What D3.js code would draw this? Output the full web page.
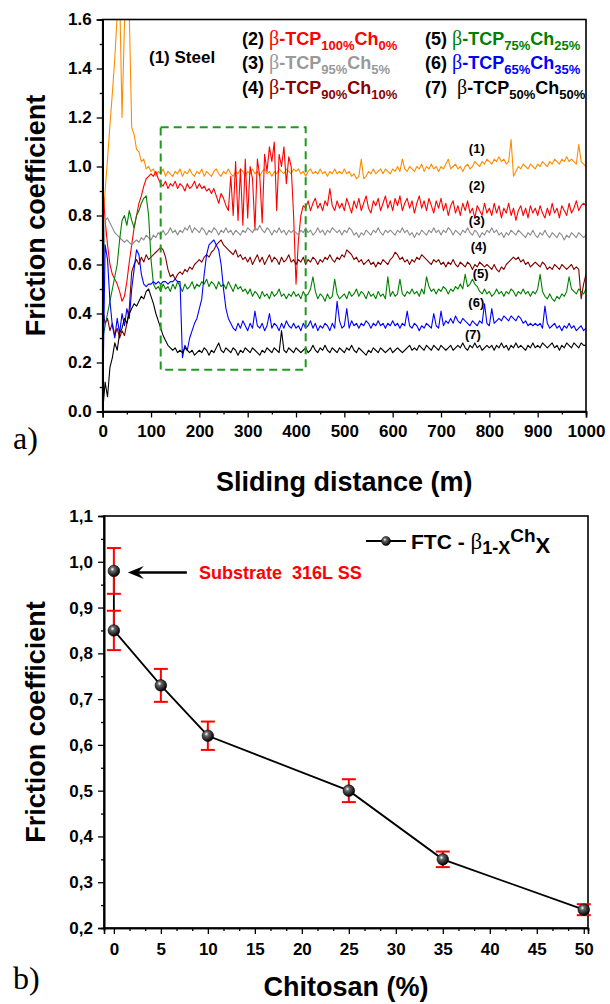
<!DOCTYPE html>
<html>
<head>
<meta charset="utf-8">
<script src="https://cdn.jsdelivr.net/npm/d3@7"></script>
<style>
  body { margin: 0; background: #fff; }
  svg { display: block; font-family: "Liberation Sans", Arial, sans-serif; }
</style>
</head>
<body>
<svg id="fig" width="610" height="1004"></svg>
<script>
// ---------- (a) friction coefficient vs sliding distance, sampled every 5 m ----------
const distance = d3.range(0, 1001, 5);

const steel = [
  0.76,0.90,1.03,1.17,1.30,1.44,1.62,1.72,1.20,1.58,1.72,1.62,1.16,1.13,1.07,1.06,1.02,1.03,0.99,1.00,
  0.98,0.99,0.96,0.98,0.97,0.99,0.96,0.98,0.97,0.96,0.98,0.97,0.99,0.96,0.98,0.97,0.99,0.97,0.96,0.98,
  0.97,0.99,0.96,0.98,0.97,0.96,0.98,0.99,0.97,0.96,0.98,0.97,0.99,0.97,0.96,0.98,0.97,0.99,0.98,0.96,
  0.98,0.97,0.99,0.97,0.98,0.96,0.98,0.99,0.97,0.98,0.96,0.98,0.97,0.99,0.98,0.97,0.99,0.98,0.97,0.99,
  0.98,0.99,0.97,0.98,0.96,0.98,0.99,0.97,0.98,0.97,0.99,0.97,0.98,0.96,0.98,0.97,0.99,0.97,0.98,0.97,
  0.99,0.97,0.98,0.96,0.97,0.95,0.96,1.03,0.95,0.96,0.98,0.97,0.99,0.97,0.98,0.99,0.97,0.99,0.98,0.97,
  0.99,0.98,1.00,0.98,1.03,0.99,0.98,1.00,0.99,0.98,1.00,0.99,1.01,0.98,1.00,0.99,1.01,0.99,1.00,0.98,
  1.00,0.99,1.01,1.03,0.99,1.00,1.01,0.99,1.00,0.98,1.00,1.01,0.99,1.00,1.02,1.01,1.00,1.02,1.01,1.03,
  1.02,1.01,1.03,1.02,1.04,1.02,1.03,1.01,1.02,1.11,0.96,0.98,1.00,0.99,1.01,1.00,0.99,1.01,1.00,0.99,
  1.01,1.00,1.02,1.01,1.00,1.02,1.01,1.03,1.02,1.01,1.03,1.02,1.04,1.02,1.03,1.02,1.01,1.09,1.02,1.01,
  1.00
];
const tcp100 = [
  0.93,0.78,0.68,0.60,0.56,0.54,0.52,0.49,0.45,0.47,0.53,0.61,0.68,0.75,0.80,0.85,0.88,0.92,0.95,0.96,
  0.97,0.96,0.98,0.95,0.93,0.92,0.94,0.91,0.93,0.92,0.94,0.91,0.93,0.92,0.90,0.93,0.91,0.92,0.94,0.91,
  0.93,0.91,0.92,0.90,0.91,0.89,0.91,0.88,0.85,0.89,0.87,0.84,0.82,0.96,0.80,1.02,0.78,0.99,0.76,1.03,
  0.79,1.00,0.95,0.74,1.03,0.96,0.77,1.05,0.98,1.08,1.02,1.10,0.82,1.05,1.00,1.08,0.93,1.04,1.00,0.80,
  0.52,0.70,0.80,0.84,0.83,0.86,0.82,0.85,0.87,0.83,0.85,0.82,0.86,0.84,0.91,0.84,0.82,0.86,0.83,0.85,
  0.82,0.87,0.84,0.81,0.86,0.83,0.87,0.82,0.85,0.88,0.83,0.81,0.86,0.84,0.87,0.82,0.85,0.88,0.83,0.86,
  0.82,0.87,0.84,0.88,0.82,0.85,0.87,0.83,0.86,0.81,0.85,0.88,0.83,0.86,0.82,0.87,0.84,0.81,0.86,0.83,
  0.87,0.82,0.85,0.80,0.84,0.86,0.81,0.84,0.80,0.85,0.82,0.86,0.81,0.83,0.79,0.84,0.82,0.80,0.85,0.81,
  0.83,0.80,0.85,0.81,0.84,0.79,0.83,0.81,0.85,0.80,0.83,0.78,0.82,0.84,0.80,0.83,0.79,0.84,0.81,0.83,
  0.80,0.84,0.81,0.79,0.83,0.80,0.85,0.81,0.83,0.79,0.84,0.82,0.80,0.85,0.81,0.83,0.86,0.82,0.84,0.85,
  0.84
];
const tcp95 = [
  0.35,0.78,0.79,0.77,0.75,0.73,0.72,0.71,0.70,0.69,0.70,0.69,0.68,0.69,0.70,0.69,0.71,0.70,0.72,0.71,
  0.70,0.72,0.71,0.73,0.72,0.74,0.72,0.73,0.75,0.73,0.74,0.72,0.74,0.73,0.75,0.74,0.76,0.73,0.75,0.74,
  0.73,0.75,0.74,0.72,0.74,0.73,0.75,0.74,0.72,0.74,0.73,0.75,0.73,0.74,0.72,0.74,0.73,0.72,0.74,0.73,
  0.75,0.74,0.73,0.75,0.74,0.76,0.74,0.73,0.75,0.74,0.72,0.74,0.73,0.75,0.73,0.74,0.72,0.74,0.73,0.74,
  0.73,0.72,0.74,0.73,0.75,0.73,0.74,0.72,0.73,0.75,0.73,0.74,0.72,0.74,0.73,0.75,0.74,0.73,0.74,0.72,
  0.74,0.73,0.75,0.74,0.72,0.73,0.71,0.73,0.72,0.74,0.73,0.72,0.74,0.73,0.75,0.73,0.72,0.74,0.73,0.74,
  0.73,0.72,0.74,0.73,0.75,0.73,0.74,0.72,0.73,0.71,0.73,0.72,0.74,0.73,0.72,0.74,0.73,0.75,0.73,0.74,
  0.72,0.74,0.73,0.75,0.74,0.72,0.74,0.73,0.72,0.74,0.73,0.75,0.73,0.72,0.74,0.73,0.71,0.73,0.72,0.74,
  0.73,0.75,0.73,0.74,0.72,0.73,0.71,0.73,0.72,0.74,0.73,0.72,0.74,0.73,0.72,0.71,0.73,0.72,0.74,0.72,
  0.71,0.73,0.72,0.74,0.72,0.71,0.73,0.72,0.71,0.73,0.72,0.70,0.72,0.71,0.73,0.72,0.71,0.73,0.72,0.71,
  0.72
];
const tcp90 = [
  0.42,0.36,0.38,0.33,0.36,0.31,0.34,0.30,0.33,0.31,0.36,0.42,0.57,0.60,0.62,0.60,0.63,0.61,0.64,0.62,
  0.63,0.64,0.65,0.66,0.67,0.66,0.63,0.58,0.55,0.56,0.54,0.56,0.57,0.56,0.58,0.57,0.59,0.58,0.60,0.61,
  0.62,0.61,0.63,0.64,0.63,0.65,0.66,0.68,0.69,0.70,0.68,0.67,0.66,0.65,0.64,0.66,0.63,0.64,0.62,0.63,
  0.61,0.63,0.60,0.62,0.64,0.61,0.63,0.60,0.62,0.64,0.61,0.63,0.62,0.60,0.63,0.61,0.62,0.64,0.61,0.62,
  0.60,0.62,0.61,0.63,0.60,0.62,0.61,0.63,0.62,0.60,0.62,0.61,0.63,0.62,0.64,0.62,0.61,0.63,0.62,0.64,
  0.63,0.66,0.65,0.64,0.62,0.63,0.61,0.62,0.60,0.61,0.62,0.60,0.61,0.59,0.61,0.60,0.62,0.61,0.60,0.62,
  0.63,0.65,0.64,0.62,0.63,0.61,0.62,0.60,0.62,0.61,0.63,0.62,0.64,0.63,0.62,0.61,0.60,0.62,0.61,0.62,
  0.60,0.61,0.59,0.61,0.60,0.62,0.60,0.59,0.61,0.60,0.59,0.61,0.60,0.58,0.60,0.59,0.61,0.60,0.59,0.60,
  0.59,0.58,0.60,0.58,0.57,0.59,0.58,0.60,0.61,0.62,0.63,0.62,0.63,0.61,0.62,0.60,0.61,0.59,0.60,0.61,
  0.60,0.59,0.61,0.60,0.58,0.59,0.58,0.60,0.59,0.58,0.60,0.59,0.58,0.59,0.60,0.58,0.59,0.58,0.46,0.52,
  0.56
];
const tcp75 = [
  0.30,0.35,0.40,0.45,0.50,0.55,0.60,0.70,0.78,0.80,0.76,0.82,0.78,0.75,0.80,0.82,0.85,0.87,0.88,0.80,
  0.62,0.52,0.50,0.51,0.49,0.52,0.50,0.51,0.49,0.52,0.50,0.53,0.51,0.49,0.52,0.50,0.51,0.53,0.50,0.52,
  0.51,0.53,0.52,0.54,0.51,0.53,0.52,0.50,0.53,0.51,0.52,0.50,0.53,0.51,0.49,0.52,0.50,0.51,0.49,0.50,
  0.48,0.50,0.47,0.49,0.48,0.46,0.49,0.47,0.48,0.46,0.49,0.47,0.48,0.50,0.47,0.48,0.46,0.48,0.47,0.49,
  0.47,0.48,0.46,0.49,0.47,0.48,0.50,0.55,0.49,0.46,0.48,0.47,0.45,0.48,0.46,0.47,0.54,0.48,0.46,0.47,
  0.48,0.46,0.49,0.47,0.48,0.50,0.47,0.49,0.48,0.46,0.49,0.47,0.48,0.46,0.49,0.47,0.48,0.46,0.55,0.47,
  0.49,0.47,0.48,0.54,0.48,0.47,0.49,0.48,0.50,0.48,0.49,0.47,0.50,0.48,0.55,0.51,0.49,0.50,0.48,0.50,
  0.49,0.51,0.50,0.48,0.50,0.49,0.51,0.50,0.52,0.50,0.56,0.51,0.52,0.54,0.52,0.51,0.49,0.48,0.50,0.48,
  0.49,0.47,0.48,0.50,0.48,0.49,0.47,0.49,0.48,0.50,0.49,0.47,0.49,0.48,0.50,0.48,0.49,0.47,0.49,0.48,
  0.50,0.56,0.49,0.47,0.46,0.48,0.46,0.45,0.47,0.46,0.48,0.47,0.49,0.55,0.50,0.49,0.48,0.50,0.49,0.48,
  0.50
];
const tcp65 = [
  0.02,0.68,0.62,0.45,0.35,0.30,0.38,0.32,0.40,0.35,0.42,0.38,0.50,0.58,0.66,0.64,0.56,0.52,0.51,0.52,
  0.52,0.53,0.52,0.53,0.52,0.53,0.53,0.52,0.53,0.53,0.54,0.53,0.53,0.22,0.27,0.25,0.30,0.33,0.36,0.38,
  0.42,0.46,0.56,0.64,0.68,0.69,0.70,0.68,0.66,0.60,0.50,0.42,0.38,0.36,0.34,0.33,0.36,0.34,0.37,0.35,
  0.33,0.36,0.34,0.41,0.35,0.34,0.36,0.33,0.35,0.40,0.34,0.36,0.35,0.33,0.36,0.34,0.37,0.35,0.34,0.36,
  0.34,0.35,0.33,0.36,0.34,0.35,0.37,0.34,0.36,0.33,0.35,0.34,0.36,0.35,0.33,0.36,0.34,0.45,0.37,0.34,
  0.35,0.42,0.34,0.37,0.35,0.36,0.34,0.36,0.35,0.37,0.36,0.34,0.36,0.35,0.37,0.35,0.36,0.34,0.36,0.35,
  0.37,0.35,0.36,0.34,0.36,0.35,0.41,0.35,0.34,0.36,0.35,0.33,0.35,0.34,0.36,0.35,0.34,0.40,0.35,0.34,
  0.41,0.35,0.37,0.36,0.38,0.36,0.39,0.37,0.36,0.38,0.37,0.36,0.35,0.37,0.36,0.35,0.37,0.36,0.44,0.36,
  0.35,0.42,0.36,0.37,0.38,0.37,0.39,0.38,0.37,0.39,0.38,0.37,0.39,0.38,0.36,0.37,0.35,0.36,0.35,0.36,
  0.35,0.36,0.34,0.43,0.36,0.34,0.35,0.36,0.34,0.35,0.33,0.35,0.34,0.36,0.34,0.35,0.33,0.34,0.35,0.33,
  0.34
];
const tcp50 = [
  0.00,0.12,0.06,0.18,0.22,0.28,0.25,0.32,0.34,0.38,0.36,0.40,0.42,0.44,0.43,0.45,0.47,0.46,0.49,0.50,
  0.47,0.44,0.40,0.37,0.34,0.31,0.29,0.27,0.26,0.25,0.26,0.24,0.25,0.24,0.26,0.25,0.24,0.25,0.23,0.24,
  0.25,0.24,0.26,0.25,0.23,0.25,0.24,0.26,0.28,0.25,0.24,0.26,0.25,0.24,0.26,0.25,0.23,0.25,0.24,0.26,
  0.25,0.24,0.26,0.25,0.24,0.23,0.25,0.24,0.26,0.25,0.24,0.26,0.25,0.24,0.33,0.25,0.24,0.26,0.25,0.24,
  0.26,0.25,0.24,0.25,0.26,0.24,0.25,0.27,0.25,0.24,0.26,0.25,0.27,0.25,0.24,0.26,0.25,0.24,0.26,0.25,
  0.24,0.26,0.25,0.27,0.25,0.24,0.26,0.25,0.24,0.23,0.25,0.24,0.26,0.25,0.24,0.26,0.25,0.24,0.25,0.26,
  0.24,0.25,0.26,0.25,0.24,0.25,0.26,0.27,0.25,0.26,0.25,0.27,0.26,0.25,0.27,0.26,0.25,0.27,0.26,0.25,
  0.27,0.26,0.25,0.26,0.27,0.25,0.26,0.27,0.26,0.28,0.26,0.25,0.27,0.26,0.28,0.26,0.27,0.25,0.26,0.27,
  0.26,0.27,0.25,0.27,0.26,0.28,0.26,0.27,0.25,0.27,0.26,0.28,0.26,0.27,0.26,0.25,0.27,0.26,0.28,0.26,
  0.27,0.26,0.28,0.27,0.26,0.27,0.28,0.26,0.27,0.25,0.27,0.26,0.28,0.27,0.26,0.28,0.27,0.26,0.28,0.27,
  0.27
];

const series = [steel, tcp100, tcp95, tcp90, tcp75, tcp65, tcp50];
const seriesTags = ["(1)", "(2)", "(3)", "(4)", "(5)", "(6)", "(7)"];
const seriesColors = ["#ff8c00", "#ff0000", "#8c8c8c", "#800000", "#008000", "#0000ff", "#000000"];
const legendColors = ["#000000", "#ff0000", "#999999", "#8b0000", "#008000", "#0000ff", "#000000"];
// beta-TCP / chitosan percentages of the coatings (2)-(7)
const tcpShare = [100, 95, 90, 75, 65, 50];
const chShare = [0, 5, 10, 25, 35, 50];
// where each curve tag sits, in data units (distance, friction)
const tagDistance = [774, 774, 774, 778, 782, 773, 766];
const tagValue = [1.075, 0.924, 0.781, 0.673, 0.565, 0.444, 0.315];
// dashed rectangle marking the running-in region
const runIn = { from: 120, to: 420, low: 0.17, high: 1.16 };

const xTicksA = d3.range(0, 1001, 100);
const yTicksA = d3.range(0, 1.61, 0.2);

// ---------- (b) mean friction coefficient vs chitosan content ----------
const chitosan = [0, 0, 5, 10, 25, 35, 50];
const ftc = [0.98, 0.85, 0.73, 0.62, 0.50, 0.35, 0.24];
const ftcErr = [0.05, 0.043, 0.036, 0.031, 0.025, 0.017, 0.012];
const xTicksB = d3.range(0, 51, 5);
const yTicksB = [0.2, 0.3, 0.4, 0.5, 0.6, 0.7, 0.8, 0.9, 1.0, 1.1];

// ================= drawing =================
const svg = d3.select("#fig");
const defs = svg.append("defs");

const ball = defs.append("radialGradient").attr("id", "ball")
  .attr("cx", "38%").attr("cy", "35%").attr("r", "65%");
ball.append("stop").attr("offset", "0%").attr("stop-color", "#ffffff");
ball.append("stop").attr("offset", "28%").attr("stop-color", "#666666");
ball.append("stop").attr("offset", "100%").attr("stop-color", "#000000");

function styleAxis(g, fontSize) {
  g.select(".domain").attr("stroke", "#000").attr("stroke-width", 1.6);
  g.selectAll(".tick line").attr("stroke", "#000").attr("stroke-width", 1.3);
  g.selectAll(".tick text").attr("fill", "#000").attr("font-size", fontSize)
    .attr("font-weight", "bold").attr("font-family", "'Liberation Sans', Arial, sans-serif");
}

// ----- panel a -----
const xA = d3.scaleLinear().domain([0, 1000]).range([102.7, 586]);
const yA = d3.scaleLinear().domain([0, 1.6]).range([411.5, 19.5]);

defs.append("clipPath").attr("id", "clipA").append("rect")
  .attr("x", xA(0)).attr("y", yA(1.6))
  .attr("width", xA(1000) - xA(0)).attr("height", yA(0) - yA(1.6));

const lineA = d3.line().x((d, i) => xA(distance[i])).y(d => yA(d));
const curves = svg.append("g").attr("clip-path", "url(#clipA)");
series.forEach((s, k) => {
  curves.append("path").attr("d", lineA(s)).attr("fill", "none")
    .attr("stroke", seriesColors[k]).attr("stroke-width", 1.1)
    .attr("stroke-linejoin", "round");
});

svg.append("rect")
  .attr("x", xA(runIn.from)).attr("y", yA(runIn.high))
  .attr("width", xA(runIn.to) - xA(runIn.from)).attr("height", yA(runIn.low) - yA(runIn.high))
  .attr("fill", "none").attr("stroke", "#1f9a1f").attr("stroke-width", 2)
  .attr("stroke-dasharray", "8,5");

svg.append("rect").attr("x", xA(0)).attr("y", yA(1.6))
  .attr("width", xA(1000) - xA(0)).attr("height", yA(0) - yA(1.6))
  .attr("fill", "none").attr("stroke", "#000").attr("stroke-width", 1.6);

const axA = svg.append("g").attr("transform", `translate(0,${yA(0)})`)
  .call(d3.axisBottom(xA).tickValues(xTicksA).tickSize(6).tickPadding(7).tickFormat(d3.format("d")));
styleAxis(axA, 17);
const axAm = svg.append("g").attr("transform", `translate(0,${yA(0)})`)
  .call(d3.axisBottom(xA).tickValues(d3.range(50, 1000, 100)).tickSize(3).tickFormat(""));
styleAxis(axAm, 17);
const ayA = svg.append("g").attr("transform", `translate(${xA(0)},0)`)
  .call(d3.axisLeft(yA).tickValues(yTicksA).tickSize(6).tickPadding(5).tickFormat(d3.format(".1f")));
styleAxis(ayA, 17);
const ayAm = svg.append("g").attr("transform", `translate(${xA(0)},0)`)
  .call(d3.axisLeft(yA).tickValues(d3.range(0.1, 1.6, 0.2)).tickSize(3).tickFormat(""));
styleAxis(ayAm, 17);

// curve tags
seriesTags.forEach((t, k) => {
  svg.append("text").attr("x", xA(tagDistance[k])).attr("y", yA(tagValue[k]))
    .attr("text-anchor", "middle").attr("dominant-baseline", "central")
    .attr("font-size", 13).attr("font-weight", "bold").text(t);
});

// legend
svg.append("text").attr("x", 149).attr("y", 63).attr("font-size", 17)
  .attr("font-weight", "bold").text("(1) Steel");

function legendEntry(x, y, k) {
  const c = legendColors[k + 1];
  const t = svg.append("text").attr("x", x).attr("y", y)
    .attr("font-size", 18).attr("font-weight", "bold");
  t.append("tspan").attr("fill", "#000").text(seriesTags[k + 1] + (k === 5 ? "\u00a0\u00a0" : " "));
  t.append("tspan").attr("fill", c).attr("font-family", "'Liberation Serif', serif")
    .attr("font-weight", "normal").attr("font-size", 20).text("\u03b2");
  t.append("tspan").attr("fill", c).text("-TCP");
  t.append("tspan").attr("fill", c).attr("font-size", 13).attr("dy", 5).text(tcpShare[k] + "%");
  t.append("tspan").attr("fill", c).attr("dy", -5).text("Ch");
  t.append("tspan").attr("fill", c).attr("font-size", 13).attr("dy", 5).text(chShare[k] + "%");
}
[45, 69, 94].forEach((y, r) => legendEntry(242, y, r));
[45, 69, 94].forEach((y, r) => legendEntry(425, y, r + 3));

svg.append("text").attr("x", 13).attr("y", 449)
  .attr("font-family", "'Liberation Serif', serif").attr("font-size", 32).text("a)");
svg.append("text").attr("x", (xA(0) + xA(1000)) / 2).attr("y", 491)
  .attr("text-anchor", "middle").attr("font-size", 27).attr("font-weight", "bold")
  .text("Sliding distance (m)");
svg.append("text").attr("transform", `translate(45,${(yA(0) + yA(1.6)) / 2}) rotate(-90)`)
  .attr("text-anchor", "middle").attr("font-size", 27).attr("font-weight", "bold")
  .text("Friction coefficient");

// ----- panel b -----
const xB = d3.scaleLinear().domain([-1.05, 50.45]).range([104, 588]);
const yB = d3.scaleLinear().domain([0.2, 1.1]).range([928, 516]);
const comma = v => d3.format(".1f")(v).replace(".", ",");

svg.append("rect").attr("x", xB(-1.05)).attr("y", yB(1.1))
  .attr("width", xB(50.45) - xB(-1.05)).attr("height", yB(0.2) - yB(1.1))
  .attr("fill", "none").attr("stroke", "#000").attr("stroke-width", 1.6);

const axB = svg.append("g").attr("transform", `translate(0,${yB(0.2)})`)
  .call(d3.axisBottom(xB).tickValues(xTicksB).tickSize(6).tickPadding(9).tickFormat(d3.format("d")));
styleAxis(axB, 17);
const minorB = d3.range(0, 50.01, 5 / 3).filter(v => Math.abs(v / 5 - Math.round(v / 5)) > 0.01);
const axBm = svg.append("g").attr("transform", `translate(0,${yB(0.2)})`)
  .call(d3.axisBottom(xB).tickValues(minorB).tickSize(3).tickFormat(""));
styleAxis(axBm, 17);
const ayB = svg.append("g").attr("transform", `translate(${xB(-1.05)},0)`)
  .call(d3.axisLeft(yB).tickValues(yTicksB).tickSize(6).tickPadding(5).tickFormat(comma));
styleAxis(ayB, 17);
const ayBm = svg.append("g").attr("transform", `translate(${xB(-1.05)},0)`)
  .call(d3.axisLeft(yB).tickValues(d3.range(0.25, 1.1, 0.1)).tickSize(3).tickFormat(""));
styleAxis(ayBm, 17);

const pts = chitosan.map((c, i) => ({ c, v: ftc[i], e: ftcErr[i] }));
svg.append("path")
  .attr("d", d3.line().x(d => xB(d.c)).y(d => yB(d.v))(pts))
  .attr("fill", "none").attr("stroke", "#000").attr("stroke-width", 1.8);

const bars = svg.append("g").attr("stroke", "#ff0000").attr("stroke-width", 2);
pts.forEach(d => {
  const cx = xB(d.c);
  bars.append("line").attr("x1", cx).attr("x2", cx).attr("y1", yB(d.v - d.e)).attr("y2", yB(d.v + d.e));
  [d.v - d.e, d.v + d.e].forEach(v => {
    bars.append("line").attr("x1", cx - 7).attr("x2", cx + 7).attr("y1", yB(v)).attr("y2", yB(v));
  });
});
svg.append("g").selectAll("circle").data(pts).join("circle")
  .attr("cx", d => xB(d.c)).attr("cy", d => yB(d.v)).attr("r", 5.8)
  .attr("fill", "url(#ball)").attr("stroke", "#000").attr("stroke-width", 0.6);

// arrow to the bare substrate point
const ax0 = xB(0) + 14, ay0 = yB(ftc[0]) + 1.5;
svg.append("line").attr("x1", ax0 + 8).attr("x2", ax0 + 59).attr("y1", ay0).attr("y2", ay0)
  .attr("stroke", "#000").attr("stroke-width", 2.4);
svg.append("path")
  .attr("d", `M${ax0},${ay0} L${ax0 + 16},${ay0 - 6.5} L${ax0 + 10},${ay0} L${ax0 + 16},${ay0 + 6.5} Z`)
  .attr("fill", "#000");
svg.append("text").attr("x", 199).attr("y", ay0 + 6.5).attr("fill", "#ff0000")
  .attr("font-size", 18).attr("font-weight", "bold").text("Substrate\u00a0 316L SS");

// legend of panel b
svg.append("line").attr("x1", 366).attr("x2", 406).attr("y1", 541).attr("y2", 541)
  .attr("stroke", "#000").attr("stroke-width", 1.8);
svg.append("circle").attr("cx", 386).attr("cy", 541).attr("r", 4.5)
  .attr("fill", "url(#ball)").attr("stroke", "#000").attr("stroke-width", 0.5);
const lg = svg.append("text").attr("x", 411).attr("y", 549).attr("font-size", 21).attr("font-weight", "bold");
lg.append("tspan").text("FTC - ");
lg.append("tspan").attr("font-family", "'Liberation Serif', serif").attr("font-weight", "normal")
  .attr("font-size", 23).text("\u03b2");
lg.append("tspan").attr("font-size", 18).attr("dy", 5).text("1-X");
lg.append("tspan").attr("font-size", 19).attr("dy", -12).text("Ch");
lg.append("tspan").attr("font-size", 22).attr("dy", 11).text("X");

svg.append("text").attr("x", 13).attr("y", 989)
  .attr("font-family", "'Liberation Serif', serif").attr("font-size", 32).text("b)");
svg.append("text").attr("x", (xB(-1.05) + xB(50.45)) / 2).attr("y", 996)
  .attr("text-anchor", "middle").attr("font-size", 27).attr("font-weight", "bold")
  .text("Chitosan (%)");
svg.append("text").attr("transform", `translate(45,${(yB(0.2) + yB(1.1)) / 2}) rotate(-90)`)
  .attr("text-anchor", "middle").attr("font-size", 27).attr("font-weight", "bold")
  .text("Friction coefficient");
</script>
</body>
</html>
